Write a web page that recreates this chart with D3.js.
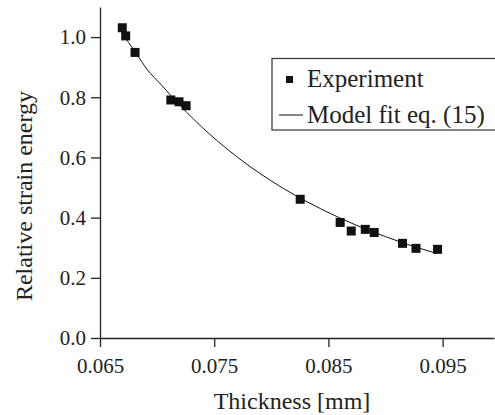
<!DOCTYPE html>
<html>
<head>
<meta charset="utf-8">
<script src="https://cdn.jsdelivr.net/npm/d3@7"></script>
<style>
  html, body { margin: 0; padding: 0; background: #fff; }
  svg { display: block; }
  svg text { font-family: "Liberation Serif", "Times New Roman", Times, serif !important; fill: #222; }
</style>
</head>
<body>
<svg id="chart" width="495" height="415"></svg>
<script>
// Experimental points: thickness [mm], relative strain energy
const expThickness = [0.06695, 0.06725, 0.06807, 0.0712, 0.07192, 0.07254, 0.08253, 0.08603, 0.0870, 0.08823, 0.08901, 0.09149, 0.09267, 0.09456];
const expEnergy    = [1.031, 1.004, 0.949, 0.791, 0.785, 0.772, 0.461, 0.384, 0.3555, 0.361, 0.3505, 0.3146, 0.298, 0.2947];

// Model fit curve
const fitThickness = [0.0670, 0.0675, 0.0681, 0.0691, 0.0704, 0.0720, 0.0732, 0.0760, 0.0782, 0.0800, 0.0821, 0.0843, 0.0860, 0.0880, 0.0900, 0.0913, 0.0930, 0.0945];
const fitEnergy    = [1.010, 0.982, 0.950, 0.894, 0.840, 0.773, 0.727, 0.632, 0.568, 0.522, 0.474, 0.430, 0.399, 0.366, 0.337, 0.319, 0.298, 0.281];

const xTicks = [0.065, 0.075, 0.085, 0.095];
const yTicks = [0.0, 0.2, 0.4, 0.6, 0.8, 1.0];
const legendLabels = ["Experiment", "Model fit eq. (15)"];
const xLabel = "Thickness [mm]";
const yLabel = "Relative strain energy";

const svg = d3.select("#chart");
const mLeft = 100, mRight = 494, mTop = 7, mBottom = 338;

const x = d3.scaleLinear().domain([0.065, 0.0995]).range([mLeft, mRight]);
const y = d3.scaleLinear().domain([0, 1.1]).range([mBottom, mTop]);

// Axes
const xAxis = d3.axisBottom(x).tickValues(xTicks).tickFormat(d3.format(".3f")).tickSize(9).tickPadding(11).tickSizeOuter(0);
const yAxis = d3.axisLeft(y).tickValues(yTicks).tickFormat(d3.format(".1f")).tickSize(9).tickPadding(5).tickSizeOuter(0);

const gx = svg.append("g").attr("transform", `translate(0,${mBottom})`).call(xAxis);
const gy = svg.append("g").attr("transform", `translate(${mLeft},0)`).call(yAxis);

[gx, gy].forEach(g => {
  g.attr("font-family", null);
  g.selectAll("path.domain").attr("stroke", "#222").attr("stroke-width", 1.3);
  g.selectAll(".tick line").attr("stroke", "#222").attr("stroke-width", 1.3);
  g.selectAll(".tick text").attr("font-size", 21).attr("fill", "#222");
});

// Axis labels
svg.append("text")
  .attr("x", 292).attr("y", 409)
  .attr("text-anchor", "middle")
  .attr("font-size", 24)
  .text(xLabel);

svg.append("text")
  .attr("transform", `translate(32,196) rotate(-90)`)
  .attr("text-anchor", "middle")
  .attr("font-size", 24)
  .text(yLabel);

// Fit line
const pts = fitThickness.map((t, i) => [t, fitEnergy[i]]);
svg.append("path")
  .datum(pts)
  .attr("fill", "none")
  .attr("stroke", "#111")
  .attr("stroke-width", 1)
  .attr("d", d3.line().x(d => x(d[0])).y(d => y(d[1])).curve(d3.curveMonotoneX));

// Experimental squares
const sq = 9;
svg.append("g").selectAll("rect")
  .data(expThickness.map((t, i) => [t, expEnergy[i]]))
  .join("rect")
  .attr("x", d => x(d[0]) - sq / 2)
  .attr("y", d => y(d[1]) - sq / 2)
  .attr("width", sq).attr("height", sq)
  .attr("fill", "#111");

// Legend
const lg = svg.append("g");
lg.append("rect")
  .attr("x", 272).attr("y", 58.5)
  .attr("width", 230).attr("height", 71.5)
  .attr("fill", "#fff")
  .attr("stroke", "#333").attr("stroke-width", 1.2);
lg.append("rect")
  .attr("x", 286).attr("y", 76).attr("width", 7).attr("height", 7)
  .attr("fill", "#111");
lg.append("text").attr("x", 307).attr("y", 87).attr("font-size", 25).text(legendLabels[0]);
lg.append("line")
  .attr("x1", 279).attr("x2", 303).attr("y1", 115).attr("y2", 115)
  .attr("stroke", "#111").attr("stroke-width", 1);
lg.append("text").attr("x", 307).attr("y", 123).attr("font-size", 25).text(legendLabels[1]);
</script>
</body>
</html>
